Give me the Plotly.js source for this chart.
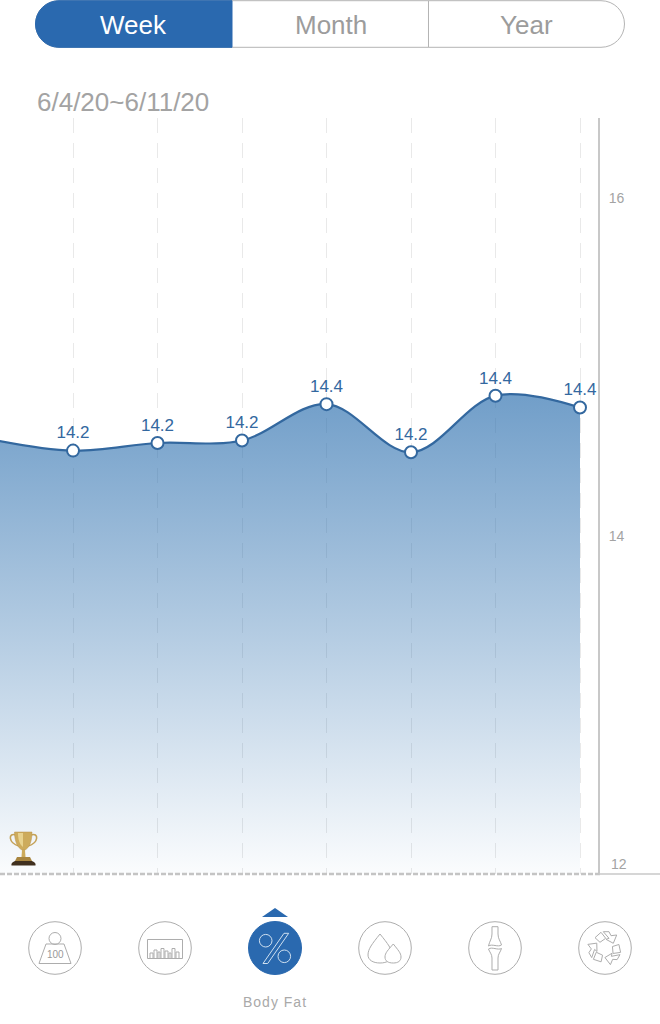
<!DOCTYPE html>
<html>
<head>
<meta charset="utf-8">
<script src="https://cdn.plot.ly/plotly-3.0.1.min.js"></script>
<style>html,body{margin:0;padding:0;background:#fff}#chart{width:660px;height:1024px}</style>
</head>
<body>
<div id="chart"></div>
<script>
// ---- data ----
const dates = ['6/4','6/5','6/6','6/7','6/8','6/9','6/10','6/11'];
const values = [14.575,14.505,14.55,14.565,14.78,14.495,14.83,14.76];
const pointLabels = ['','14.2','14.2','14.2','14.4','14.2','14.4','14.4'];
const yTicks = [12,14,16];
const yTickLabels = ['12','14','16'];
const segments = ['Week','Month','Year'];
const dateRange = '6/4/20~6/11/20';
const activeMetric = 'Body Fat';

// ---- style ----
const W = 660, H = 1024;
const BLUE = '#2a69af', LINE = '#33689f', GREY = '#a3a3a3', ICON = '#adadad';
const FONT = '"Liberation Sans", Arial, sans-serif';
const px = x => x / W, py = y => 1 - y / H;
// page-pixel path -> paper coordinates
const P = d => d.replace(/(-?[\d.]+)[ ,](-?[\d.]+)/g, (m, a, b) => px(+a).toFixed(5) + ',' + py(+b).toFixed(5));
const path = (d, o = {}) => ({type:'path', xref:'paper', yref:'paper', layer:'above', path:P(d),
  fillcolor:o.fill || 'rgba(0,0,0,0)', line:{color:o.color || ICON, width:o.width === undefined ? 1 : o.width, dash:o.dash || 'solid'}});
const circle = (cx, cy, r, o = {}) => ({type:'circle', xref:'paper', yref:'paper', layer:'above',
  x0:px(cx-r), x1:px(cx+r), y0:py(cy+r), y1:py(cy-r),
  fillcolor:o.fill || '#fff', line:{color:o.color || ICON, width:o.width === undefined ? 1 : o.width}});
const label = (text, x, y, size, color, anchor = 'center', extra = {}) => Object.assign({
  text, xref:'paper', yref:'paper', x:px(x), y:py(y), showarrow:false, xanchor:anchor, yanchor:'middle',
  font:{family:FONT, size, color}, borderpad:0}, extra);

// recycling arrows: one bent arrow, repeated by rotation around the icon centre
function recycle(cx, cy) {
  const arrow = [[-1.7,-16.3],[4,-16.3],[6,-12.3],[11.7,-13],[8.3,-4.7],[1,-8.7],[4,-9.7]];
  const tail = [[-10,-10.3],[-4,-15.7],[0.7,-9.7],[-5,-5.7]];
  const out = [];
  [0,120,240].forEach(deg => {
    const a = deg * Math.PI / 180;
    [arrow, tail].forEach(poly => {
      const s = poly.map(([x,y], i) => (i ? 'L' : 'M') + (cx + x*Math.cos(a) - y*Math.sin(a)).toFixed(2) + ' ' + (cy + x*Math.sin(a) + y*Math.cos(a)).toFixed(2)).join(' ') + ' Z';
      out.push(path(s));
    });
  });
  return out;
}

const shapes = [
  // segmented control
  path('M59 0.7 L601 0.7 C614 0.7 624.5 11 624.5 24 C624.5 37 614 47.3 601 47.3 L59 47.3 C46 47.3 35.5 37 35.5 24 C35.5 11 46 0.7 59 0.7 Z', {fill:'#fff', color:'#b4b4b4', width:1}),
  path('M232 0.7 L59 0.7 C46 0.7 35.5 11 35.5 24 C35.5 37 46 47.3 59 47.3 L232 47.3 Z', {fill:BLUE, color:BLUE, width:1}),
  path('M428.5 1 L428.5 47', {color:'#b4b4b4', width:1}),
  // baseline
  path('M0 874 L600 874', {color:'#c4c4c4', width:2.4, dash:'5px,2px'}),
  path('M599 874 L660 874', {color:'#c9c9c9', width:1.5}),
  // trophy
  path('M16 835 C8 832 8 843 19 846', {color:'#c4a258', width:1.6}),
  path('M31 835 C39 832 39 843 28 846', {color:'#c4a258', width:1.6}),
  path('M14.5 832 L32 832 C32 842 29 848 25 850 L22 850 C18 848 14.5 842 14.5 832 Z', {fill:'#cdab5c', color:'#b8934a', width:0.5}),
  path('M18 833 L23 833 L23 847 C20 845 18 840 18 833 Z', {fill:'#e8d28e', width:0}),
  path('M22 850 L25 850 L25.5 857 L21.5 857 Z', {fill:'#cdab5c', width:0}),
  path('M17 857 L30 857 L32 861 L15 861 Z', {fill:'#a98640', width:0}),
  path('M15 861 L32 861 C35 862 36 864 35.5 865.5 L11.5 865.5 C11 864 12 862 15 861 Z', {fill:'#40301f', width:0}),
  // weight icon
  circle(55, 948, 26.3),
  circle(55, 938.5, 6),
  path('M46 944 L64 944 L71 963.5 L39 963.5 Z'),
  // analysis icon
  circle(165, 948, 26.3),
  path('M147.5 939.5 L182.5 939.5 L182.5 958.5 L147.5 958.5 Z'),
  path('M150 958 L150 953 L153 953 L153 958 M154 958 L154 950 L157 950 L157 958 M158 958 L158 952 L160 952 L160 958 M161 958 L161 948.5 L164 948.5 L164 958 M165 958 L165 951 L168 951 L168 958 M169 958 L169 953 L171 953 L171 958 M172 958 L172 948.5 L175 948.5 L175 958 M176 958 L176 952 L179 952 L179 958'),
  // body fat icon (active)
  path('M262 917 L288 917 L275 908 Z', {fill:BLUE, color:BLUE, width:0}),
  circle(275, 948, 26.5, {fill:BLUE, color:BLUE}),
  circle(265.7, 940.7, 6.3, {fill:BLUE, color:'#cfe0f0'}),
  circle(284.3, 956.3, 6.3, {fill:BLUE, color:'#cfe0f0'}),
  path('M284 933.3 L288.7 933.3 L267.7 963.5 L263 963.5 Z', {color:'#cfe0f0'}),
  // water icon
  circle(385, 948, 26.3),
  path('M380 934 C372 944 368 949 368 955 C368 960 373 963 380 963 C387 963 392 960 392 955 C392 949 388 944 380 934 Z'),
  path('M393.3 944 C388 950 385 953 385 957 C385 961 388 963 393.3 963 C398 963 401 961 401 957 C401 953 398 950 393.3 944 Z', {fill:'#fff'}),
  // joint icon
  circle(495, 948, 26.3),
  path('M492 926.7 L498 926.7 L498 934 C498 939 500.5 941 501.5 945 C498 947.5 492 943.5 488.5 946 C489.5 941 492 939 492 934 Z'),
  path('M488.5 949 C492 946.5 498 950.5 501.5 948.5 C500.5 952 498 954 498 958 L498 970 L492 970 L492 958 C492 954 489.5 952 488.5 949 Z'),
  // recycle icon
  circle(605, 948, 26.3),
  ...recycle(605, 948)
];

const annotations = [
  label(segments[0], 133, 24.5, 26, '#fff'),
  label(segments[1], 330.5, 25, 26, '#9c9c9c'),
  label(segments[2], 526.5, 25, 26, '#9c9c9c'),
  label(dateRange, 36, 102, 26, GREY, 'left'),
  label(activeMetric, 275, 1002, 14, '#a9a9a9'),
  label('100', 55, 954, 10, '#999'),
  {text:yTickLabels[0], xref:'paper', yref:'y', x:px(608.5), y:yTicks[0], yshift:10, showarrow:false,
   xanchor:'left', yanchor:'middle', font:{family:FONT, size:14, color:GREY}}
];

const trace = {
  x:dates, y:values, type:'scatter', mode:'lines+markers',
  line:{shape:'spline', smoothing:1, color:LINE, width:2.2},
  marker:{size:12, color:'#fff', line:{color:LINE, width:2}},
  fill:'tozeroy',
  fillgradient:{type:'vertical', start:12, stop:14.85,
    colorscale:[[0,'rgba(45,112,175,0.02)'],[0.5,'rgba(45,112,175,0.36)'],[1,'rgba(45,112,175,0.68)']]},
  hoverinfo:'skip'
};
const labelTrace = {
  x:dates, y:values, text:pointLabels, type:'scatter', mode:'markers+text',
  textposition:'top center', textfont:{family:FONT, size:17, color:LINE},
  marker:{size:11, opacity:0}, hoverinfo:'skip'
};

const layout = {
  width:W, height:H, autosize:false, margin:{l:0,r:0,t:0,b:0,pad:0},
  paper_bgcolor:'#fff', plot_bgcolor:'#fff', showlegend:false,
  xaxis:{domain:[0,598/W], type:'category', categoryorder:'array', categoryarray:dates,
    range:[0.136,7.213], showgrid:true, griddash:'15px,10px', gridcolor:'#e9e9e9', gridwidth:1,
    showticklabels:false, ticks:'', zeroline:false, showline:false, fixedrange:true},
  yaxis:{domain:[py(874),py(118)], range:[12,16.473], side:'right', tickmode:'array',
    tickvals:yTicks.slice(1), ticktext:yTickLabels.slice(1), tickfont:{family:FONT,size:14,color:GREY},
    ticks:'', ticklabelstandoff:6, showgrid:false, zeroline:false, showline:true, linecolor:'#c8c8c8', linewidth:2, fixedrange:true},
  shapes, annotations
};
Plotly.newPlot('chart', [trace, labelTrace], layout, {displayModeBar:false, staticPlot:true}).then(() => {
  document.querySelectorAll('.annotation-text').forEach(t => {
    if (t.textContent === activeMetric) t.style.letterSpacing = '1px';
  });
});
</script>
</body>
</html>
